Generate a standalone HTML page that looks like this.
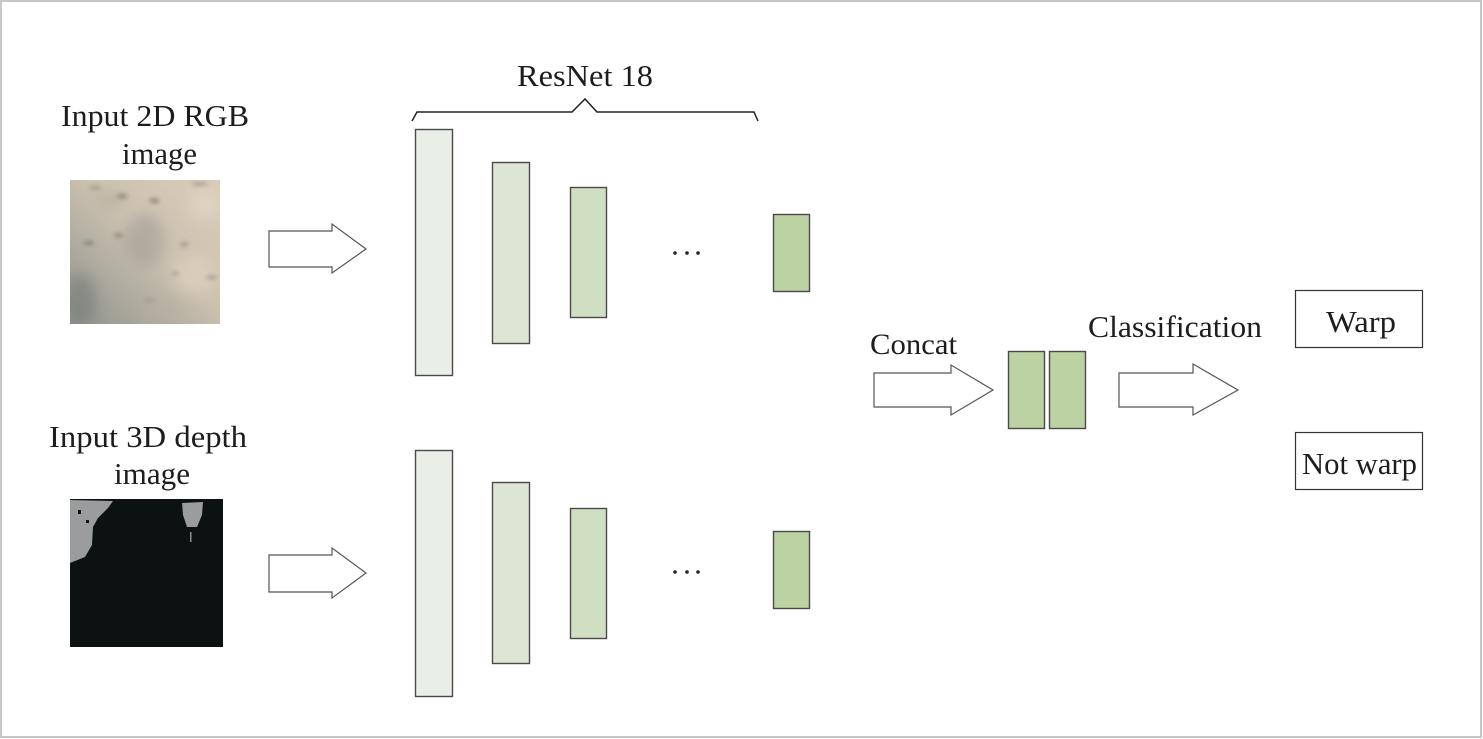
<!DOCTYPE html>
<html>
<head>
<meta charset="utf-8">
<style>
html,body{margin:0;padding:0;background:#fff;}
svg{display:block;}
text{font-family:"Liberation Serif",serif;fill:#1e1c1c;}
</style>
</head>
<body>
<svg width="1483" height="739" viewBox="0 0 1483 739" xmlns="http://www.w3.org/2000/svg">
<defs>
  <linearGradient id="rgbg" x1="1" y1="0" x2="0" y2="1">
    <stop offset="0" stop-color="#dacdba"/>
    <stop offset="0.45" stop-color="#cbc1b0"/>
    <stop offset="1" stop-color="#8e938d"/>
  </linearGradient>
  <filter id="blur2" x="-50%" y="-50%" width="200%" height="200%"><feGaussianBlur stdDeviation="2.2"/></filter>
  <filter id="blur6" x="-30%" y="-30%" width="160%" height="160%"><feGaussianBlur stdDeviation="7"/></filter>
  <clipPath id="rgbclip"><rect x="70" y="180" width="150" height="144"/></clipPath>
</defs>

<!-- frame -->
<rect x="1" y="1" width="1480" height="736" fill="#fff" stroke="#c8c8c8" stroke-width="2"/>

<!-- labels left -->
<text x="61" y="126" font-size="31" textLength="188" lengthAdjust="spacingAndGlyphs">Input 2D RGB</text>
<text x="122" y="164" font-size="31" textLength="75" lengthAdjust="spacingAndGlyphs">image</text>
<text x="49" y="447" font-size="31" textLength="198" lengthAdjust="spacingAndGlyphs">Input 3D depth</text>
<text x="114" y="484" font-size="31" textLength="76" lengthAdjust="spacingAndGlyphs">image</text>

<!-- RGB image approximation -->
<g clip-path="url(#rgbclip)">
  <rect x="70" y="180" width="150" height="144" fill="url(#rgbg)"/>
  <g filter="url(#blur6)" opacity="0.5">
    <ellipse cx="145" cy="240" rx="20" ry="26" fill="#9a978f"/>
    <ellipse cx="80" cy="300" rx="16" ry="26" fill="#6f7670"/>
    <ellipse cx="205" cy="205" rx="16" ry="14" fill="#e8dcca"/>
    <ellipse cx="195" cy="275" rx="22" ry="20" fill="#e4d6c2"/>
    <ellipse cx="110" cy="200" rx="16" ry="10" fill="#b3aa9c"/>
    <ellipse cx="160" cy="310" rx="24" ry="10" fill="#b8ae9f"/>
  </g>
  <g filter="url(#blur2)" opacity="0.55">
    <path d="M116,196 q6,-4 12,0 q-4,5 -12,0z" fill="#5e5a54"/>
    <path d="M148,200 q7,-5 12,1 q-5,6 -12,-1z" fill="#6a655d"/>
    <path d="M113,235 q6,-4 11,1 q-5,4 -11,-1z" fill="#6a645c"/>
    <path d="M82,243 q8,-5 13,0 q-6,5 -13,0z" fill="#706a62"/>
    <path d="M179,244 q6,-4 10,0 q-4,5 -10,0z" fill="#7d766c"/>
    <path d="M205,277 q7,-3 13,0 q-6,4 -13,0z" fill="#766f66"/>
    <path d="M171,273 q5,-3 8,1 q-4,3 -8,-1z" fill="#7d766c"/>
    <path d="M88,188 q8,-5 14,0 q-6,4 -14,0z" fill="#857f75"/>
    <path d="M190,184 q10,-4 20,0 q-10,3 -20,0z" fill="#7b766e"/>
    <path d="M142,300 q8,-4 15,0 q-7,5 -15,0z" fill="#9b948a"/>
  </g>
</g>

<!-- depth image -->
<rect x="70" y="499" width="153" height="148" fill="#0b1211"/>
<polygon points="70,500 113,501 108,508 98,518 93,527 92,545 85,557 70,563" fill="#9a9c9e"/>
<polygon points="182,503 203,502 202,515 197,527 187,527 183,515" fill="#9a9c9e"/>
<rect x="78" y="510" width="3" height="4" fill="#0b1211"/>
<rect x="86" y="520" width="3" height="3" fill="#0b1211"/>
<rect x="190" y="532" width="1.5" height="10" fill="#8a8c8e"/>

<!-- input arrows -->
<polygon points="269,231 332,231 332,224 366,249 332,273 332,267 269,267" fill="#fff" stroke="#555" stroke-width="1.2"/>
<polygon points="269,555 332,555 332,548 366,573 332,598 332,592 269,592" fill="#fff" stroke="#555" stroke-width="1.2"/>

<!-- ResNet brace -->
<text x="517" y="86" font-size="31" textLength="136" lengthAdjust="spacingAndGlyphs">ResNet 18</text>
<polyline points="412,121 417,112 572,112 585,99 597,112 754,112 758,121" fill="none" stroke="#222" stroke-width="1.5"/>

<!-- top row blocks -->
<g stroke="#4a4a4a" stroke-width="1.4">
  <rect x="415.5" y="129.5" width="37" height="246" fill="#e9eee7"/>
  <rect x="492.5" y="162.5" width="37" height="181" fill="#dde6d5"/>
  <rect x="570.5" y="187.5" width="36" height="130" fill="#d0dfc2"/>
  <rect x="773.5" y="214.5" width="36" height="77" fill="#bdd2a2"/>
  <!-- bottom row -->
  <rect x="415.5" y="450.5" width="37" height="246" fill="#e9eee7"/>
  <rect x="492.5" y="482.5" width="37" height="181" fill="#dde6d5"/>
  <rect x="570.5" y="508.5" width="36" height="130" fill="#d0dfc2"/>
  <rect x="773.5" y="531.5" width="36" height="77" fill="#bdd2a2"/>
  <!-- concat blocks -->
  <rect x="1008.5" y="351.5" width="36" height="77" fill="#bdd2a2"/>
  <rect x="1049.5" y="351.5" width="36" height="77" fill="#bdd2a2"/>
</g>

<!-- ellipses -->
<g fill="#222">
  <circle cx="675" cy="253" r="1.8"/><circle cx="687" cy="253" r="1.8"/><circle cx="698" cy="253" r="1.8"/>
  <circle cx="675" cy="572" r="1.8"/><circle cx="687" cy="572" r="1.8"/><circle cx="698" cy="572" r="1.8"/>
</g>

<!-- concat -->
<text x="870" y="354" font-size="30" textLength="87" lengthAdjust="spacingAndGlyphs">Concat</text>
<polygon points="874,373 951,373 951,365 993,390 951,415 951,407 874,407" fill="#fff" stroke="#555" stroke-width="1.2"/>

<!-- classification -->
<text x="1088" y="337" font-size="31" textLength="174" lengthAdjust="spacingAndGlyphs">Classification</text>
<polygon points="1119,373 1193,373 1193,364 1238,390 1193,415 1193,407 1119,407" fill="#fff" stroke="#555" stroke-width="1.2"/>

<!-- outputs -->
<rect x="1295.5" y="290.5" width="127" height="57" fill="#fff" stroke="#333" stroke-width="1.2"/>
<text x="1326" y="332" font-size="31" textLength="70" lengthAdjust="spacingAndGlyphs">Warp</text>
<rect x="1295.5" y="432.5" width="127" height="57" fill="#fff" stroke="#333" stroke-width="1.2"/>
<text x="1302" y="474" font-size="31" textLength="115" lengthAdjust="spacingAndGlyphs">Not warp</text>
</svg>
</body>
</html>
